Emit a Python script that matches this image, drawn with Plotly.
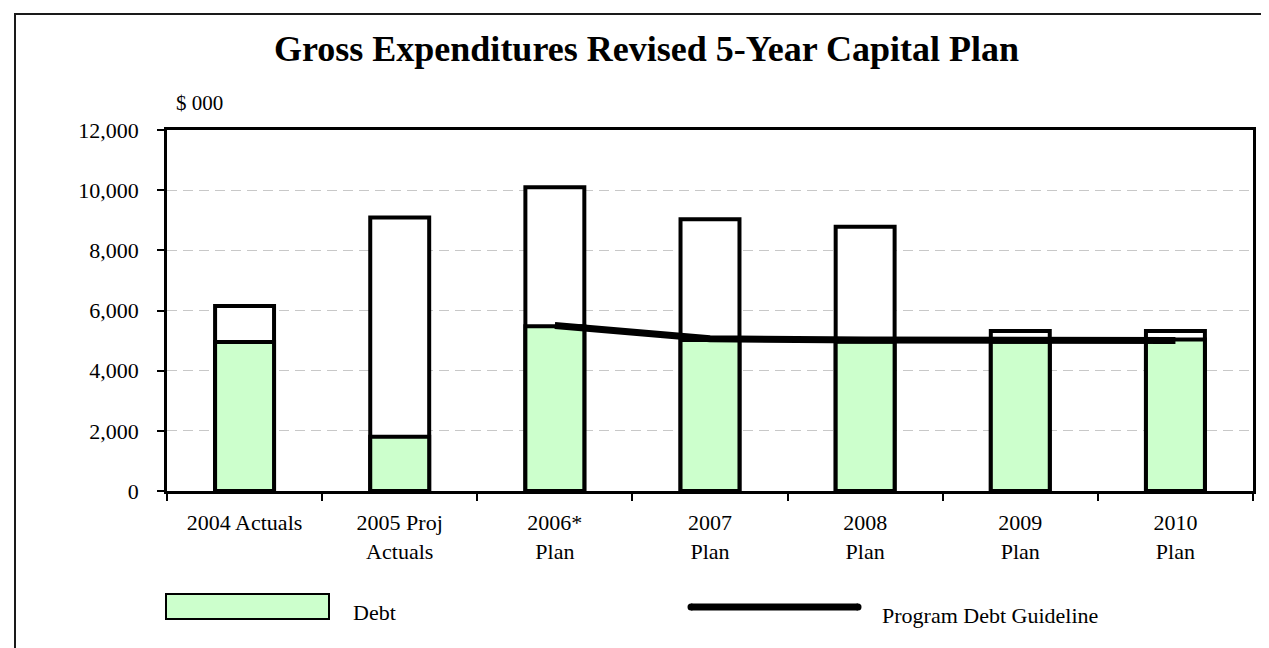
import plotly.graph_objects as go

categories = ["2004 Actuals", "2005 Proj<br>Actuals", "2006*<br>Plan", "2007<br>Plan",
              "2008<br>Plan", "2009<br>Plan", "2010<br>Plan"]
gross_total = [6150, 9090, 10100, 9030, 8780, 5320, 5320]
debt = [4950, 1800, 5480, 5020, 4960, 4960, 5040]
guideline = [None, None, 5500, 5060, 5020, 5000, 5000]
y_ticks = [0, 2000, 4000, 6000, 8000, 10000, 12000]
legend_names = ["Debt", "Program Debt Guideline"]

FONT = "Liberation Serif, Times New Roman, serif"
GREEN = "#ccffcc"

W, H = 1269, 648
L, R, T, B = 159, 24, 122, 165
pw, ph = W - L - R, H - T - B


def px(x):
    return (x - L) / pw


def py(y):
    return (H - B - y) / ph


fig = go.Figure()
fig.add_trace(go.Bar(x=categories, y=gross_total, width=0.38,
                     marker=dict(color="white", line=dict(color="black", width=4)),
                     showlegend=False, hoverinfo="y"))
fig.add_trace(go.Bar(x=categories, y=debt, width=0.38, name=legend_names[0],
                     marker=dict(color=GREEN, line=dict(color="black", width=4)),
                     showlegend=False))
fig.add_trace(go.Scatter(x=categories, y=guideline, mode="lines", name=legend_names[1],
                         line=dict(color="black", width=7), connectgaps=False,
                         showlegend=False))

fig.update_layout(
    width=W, height=H,
    margin=dict(l=L, r=R, t=T, b=B),
    barmode="overlay",
    plot_bgcolor="white", paper_bgcolor="white",
    font=dict(family=FONT, size=22, color="black"),
    title=dict(text="<b>Gross Expenditures Revised 5-Year Capital Plan</b>",
               x=638.5 / W, xanchor="center", y=1 - 40 / H, yanchor="middle",
               font=dict(family=FONT, size=36, color="black")),
    xaxis=dict(showline=True, linecolor="black", linewidth=2.5, mirror=True,
               ticks="outside", ticklen=7, tickwidth=2, tickcolor="black",
               tickson="boundaries", ticklabelstandoff=10,
               tickfont=dict(family=FONT, size=22, color="black")),
    yaxis=dict(range=[0, 12000], tickvals=y_ticks, tickformat=",",
               showline=True, linecolor="black", linewidth=2.5, mirror=True,
               ticks="outside", ticklen=7, tickwidth=2, tickcolor="black",
               showgrid=True, gridcolor="#c8c8c8", griddash="10px,6px", gridwidth=1,
               zeroline=False, ticklabelstandoff=14,
               tickfont=dict(family=FONT, size=22, color="black")),
    showlegend=False,
)

r = 3.5
shapes = [
    # outer chart border
    dict(type="rect", xref="paper", yref="paper",
         x0=px(7), x1=px(1300), y0=py(700), y1=py(6),
         line=dict(color="#1a1a1a", width=2), fillcolor="rgba(0,0,0,0)", layer="below"),
    dict(type="line", xref="paper", yref="paper",
         x0=px(1268), x1=px(1268), y0=py(700), y1=py(6),
         line=dict(color="#d0d0d0", width=1)),
    # legend swatches
    dict(type="rect", xref="paper", yref="paper",
         x0=px(158), x1=px(321), y0=py(611), y1=py(586),
         line=dict(color="black", width=2), fillcolor=GREEN),
    dict(type="line", xref="paper", yref="paper",
         x0=px(683), x1=px(850), y0=py(599), y1=py(599),
         line=dict(color="black", width=7)),
    dict(type="circle", xref="paper", yref="paper",
         x0=px(683 - r), x1=px(683 + r), y0=py(599 + r), y1=py(599 - r),
         line=dict(width=0), fillcolor="black"),
    dict(type="circle", xref="paper", yref="paper",
         x0=px(850 - r), x1=px(850 + r), y0=py(599 + r), y1=py(599 - r),
         line=dict(width=0), fillcolor="black"),
]
fig.update_layout(shapes=shapes)

annotations = [
    dict(text="$ 000", xref="paper", yref="paper", x=px(166), y=py(95),
         xanchor="left", yanchor="middle", showarrow=False,
         font=dict(family=FONT, size=21, color="black")),
    dict(text=legend_names[0], xref="paper", yref="paper", x=px(343), y=py(604),
         xanchor="left", yanchor="middle", showarrow=False,
         font=dict(family=FONT, size=22, color="black")),
    dict(text=legend_names[1], xref="paper", yref="paper", x=px(872), y=py(607),
         xanchor="left", yanchor="middle", showarrow=False,
         font=dict(family=FONT, size=22, color="black")),
]
fig.update_layout(annotations=annotations)

fig.write_html("out.html")
